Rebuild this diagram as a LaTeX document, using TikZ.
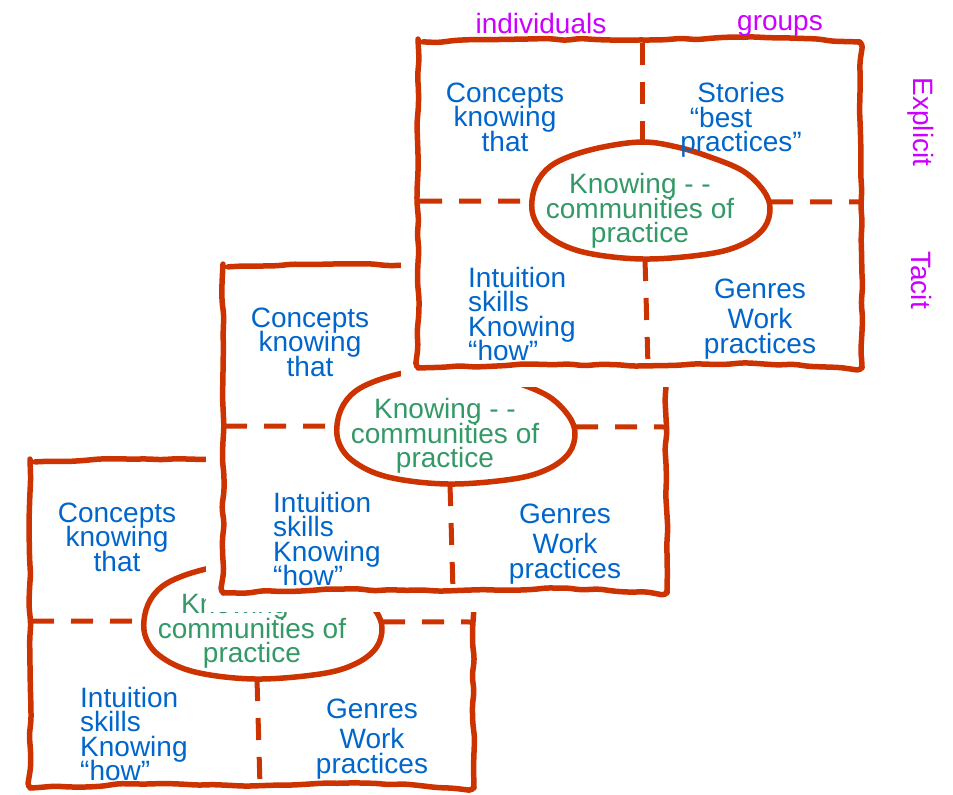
\documentclass[tikz,border=0pt]{standalone}
\usepackage{fontspec}
\setmainfont{Liberation Sans}
\usetikzlibrary{decorations.pathmorphing}

\definecolor{pen}{RGB}{204,51,0}
\definecolor{ideablue}{RGB}{0,102,204}
\definecolor{copgreen}{RGB}{51,153,102}
\definecolor{axismag}{RGB}{204,0,255}

\tikzset{
  penline/.style={draw=pen, line width=5.5pt, line cap=round, line join=round},
  wobbly/.style={penline, decorate,
    decoration={random steps, segment length=16pt, amplitude=1.2pt}, rounded corners=5pt},
  dashrule/.style={draw=pen, line width=5pt, line cap=butt, dash pattern=on 22pt off 17pt},
  say/.style={inner sep=0pt, font={\fontsize{28}{24.5}\selectfont\lineskiplimit=-50pt\relax}},
  idea/.style={say, text=ideablue, align=center},
  howto/.style={say, text=ideablue, align=left, anchor=west},
  copl/.style={say, text=copgreen, align=center},
  axislabel/.style={say, text=axismag},
  % one sheet: four quadrants split by dashed rules, with the
  % community-of-practice blob sitting on the crossing;
  % the upper right quadrant text is only set on the front sheet
  pics/sheet/.style={code={
    \fill[white] (-17,-17) rectangle (462,347);
    \path[dashrule] (2,161) -- (442,162);
    \path[dashrule] (224,3) -- (224,103);
    \path[dashrule] (227,219) -- (230,326);
    \path[wobbly] (0,2) -- (110,-1) -- (225,0) -- (330,-3) -- (442,2)
      -- (444,328) -- (330,323) -- (220,326) -- (110,324) -- (0,328) -- cycle;
    \filldraw[penline, fill=white] plot[smooth cycle, tension=0.6] coordinates {
      (225,102) (259,107) (292,117) (325,131) (345,150) (352,168) (346,188)
      (325,204) (290,214) (225,219) (165,212) (130,196) (115,175) (116,150)
      (128,130) (150,117) (185,107)};
    \node[idea] (-concepts) at (87,77) {Concepts\\knowing\\that};
    \node[copl] (-cop) at (222,171) {Knowing - -\\communities of\\practice};
    \node[howto] (-skills) at (50,274) {Intuition\\skills\\Knowing\\“how”};
    \node[idea] (-genres) at (342,279) {Genres\\[5.5pt]Work\\practices};
  }}
}

\begin{document}
\begin{tikzpicture}[x=1pt, y=-1pt]
  \pgfmathsetseed{7}
  \useasboundingbox (0,0) rectangle (953,795);
  \fill[white] (0,0) rectangle (953,795);

  % stacked sheets, back to front
  \pic (back) at (30,460) {sheet};
  \pic (mid) at (223,265) {sheet};
  \pic (front) at (418,40) {sheet};
  \node[idea] (front-stories) at (741,120)
    {Stories\\“best\rule{40pt}{0pt}\\practices”};

  % axis labels
  \node[axislabel, anchor=base] (ind) at (541,33) {individuals};
  \node[axislabel, anchor=base] (grp) at (780,30) {groups};
  \node[axislabel, rotate=-90] (expl) at (921,122) {Explicit};
  \node[axislabel, rotate=-90] (tac) at (921,280) {Tacit};
\end{tikzpicture}
\end{document}
